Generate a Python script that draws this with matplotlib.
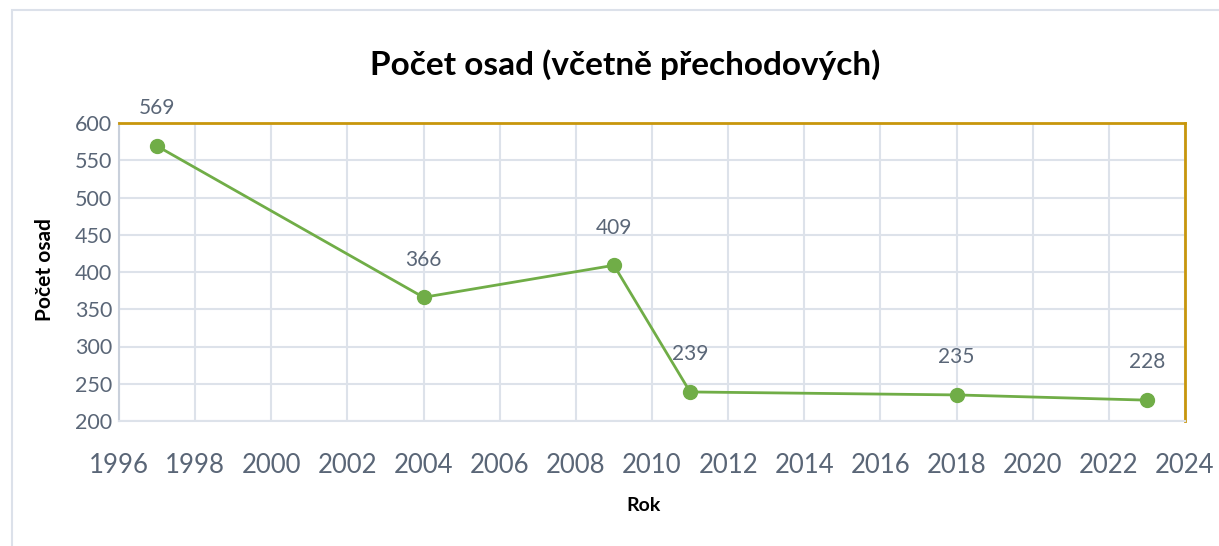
import matplotlib.pyplot as plt
from matplotlib.patches import Rectangle

years = [1997, 2004, 2009, 2011, 2018, 2023]
counts = [569, 366, 409, 239, 235, 228]
x_ticks = list(range(1996, 2025, 2))
y_ticks = list(range(200, 601, 50))

title = 'Počet osad (včetně přechodových)'
x_label = 'Rok'
y_label = 'Počet osad'

green = '#70AD47'
gold = '#C8960C'
grid_col = '#DDE2EA'
tick_col = '#5A6677'

plt.rcParams['font.family'] = ['Lato', 'DejaVu Sans']

fig = plt.figure(figsize=(12.19, 5.46), dpi=100)
# outer chart frame
fig.patches.append(Rectangle((12 / 1219, -0.1), 1.2, 1 - 10 / 546 + 0.1,
                             transform=fig.transFigure, fill=False,
                             edgecolor='#DCE1EA', linewidth=1.5))

ax = fig.add_axes([119 / 1219, 125 / 546, (1185 - 119) / 1219, (421 - 123) / 546])
ax.plot(years, counts, color=green, linewidth=2, marker='o', markersize=10,
        clip_on=False, zorder=3)
for x, y in zip(years, counts):
    ax.annotate(str(y), (x, y), xytext=(0, 20), textcoords='offset points',
                ha='center', va='bottom', fontsize=15, color=tick_col)

ax.set_xlim(1996, 2024)
ax.set_ylim(200, 600)
ax.set_xticks(x_ticks)
ax.set_yticks(y_ticks)
ax.grid(True, color=grid_col, linewidth=1.5)
ax.set_axisbelow(True)
ax.tick_params(length=0, colors=tick_col)
ax.tick_params(axis='x', labelsize=18.5, pad=23)
ax.tick_params(axis='y', labelsize=15.5, pad=5)

ax.spines['top'].set_color(gold)
ax.spines['right'].set_color(gold)
ax.spines['top'].set_linewidth(2)
ax.spines['right'].set_linewidth(2)
ax.spines['left'].set_color('#C9D0DB')
ax.spines['left'].set_linewidth(1.5)
ax.spines['bottom'].set_color(grid_col)
ax.spines['bottom'].set_linewidth(1.5)

ax.set_xlabel(x_label, fontsize=14, fontweight='bold')
ax.set_ylabel(y_label, fontsize=15, fontweight='bold')
ax.xaxis.set_label_coords(0.4916, -0.255)
ax.yaxis.set_label_coords(-0.06, 0.507)
fig.text(625 / 1219, 1 - 65 / 546, title, ha='center', va='center',
         fontsize=24, fontweight='bold', color='black')

fig.savefig('out.png', dpi=100)
